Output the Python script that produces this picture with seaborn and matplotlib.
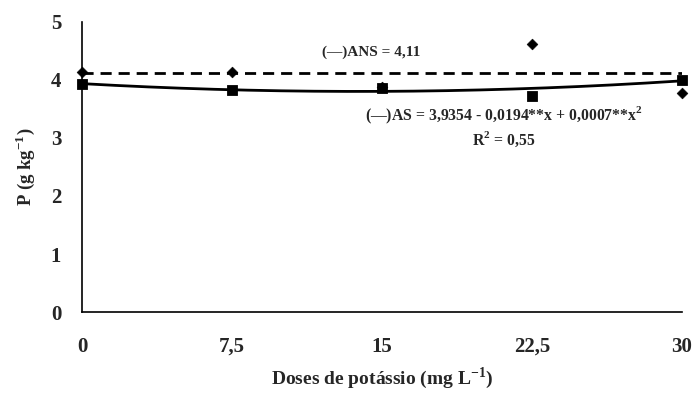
import numpy as np
import pandas as pd
import matplotlib
matplotlib.use("Agg")
import matplotlib.pyplot as plt
import seaborn as sns

# Doses de potássio and measured P contents
doses = [0, 7.5, 15, 22.5, 30]
p_ans = [4.14, 4.14, 3.88, 4.62, 3.78]
p_as = [3.93, 3.83, 3.86, 3.72, 4.00]
ans_mean = 4.11
as_coef = [3.9354, -0.0194, 0.0007]
x_ticks = [0, 7.5, 15, 22.5, 30]
x_tick_labels = ["0", "7,5", "15", "22,5", "30"]
y_ticks = [0, 1, 2, 3, 4, 5]

sns.set_style("white")
plt.rcParams["font.family"] = ["Liberation Serif", "DejaVu Serif"]
plt.rcParams["font.weight"] = "bold"
plt.rcParams["mathtext.fontset"] = "custom"
plt.rcParams["mathtext.rm"] = "Liberation Serif:bold"
plt.rcParams["mathtext.bf"] = "Liberation Serif:bold"

fig = plt.figure(figsize=(6.95, 3.97), dpi=100)
ax = fig.add_axes([0.118, 0.214, 0.863, 0.731])

# fitted curves
xs = np.linspace(min(doses), max(doses), 200)
fit = pd.DataFrame({
    "x": xs,
    "AS": as_coef[0] + as_coef[1] * xs + as_coef[2] * xs ** 2,
    "ANS": np.full_like(xs, ans_mean),
})
sns.lineplot(data=fit, x="x", y="ANS", ax=ax, color="black", lw=2.0,
             linestyle=(0, (4, 2.5)))
sns.lineplot(data=fit, x="x", y="AS", ax=ax, color="black", lw=2.0)

pts = pd.DataFrame({"dose": doses, "ANS": p_ans, "AS": p_as})
sns.scatterplot(data=pts, x="dose", y="ANS", ax=ax, marker="D", s=30,
                color="black", edgecolor="black", clip_on=False, zorder=5)
sns.scatterplot(data=pts, x="dose", y="AS", ax=ax, marker="s", s=55,
                color="black", edgecolor="black", clip_on=False, zorder=5)

ax.set_xlim(0, 30)
ax.set_ylim(0, 5)
ax.set_xticks(x_ticks)
ax.set_xticklabels(x_tick_labels)
ax.set_yticks(y_ticks)
ax.tick_params(axis="both", direction="out", length=5, width=1, color="black",
               labelsize=15, pad=13)
ax.tick_params(axis="y", pad=10)
for lab in ax.get_xticklabels() + ax.get_yticklabels():
    lab.set_fontweight("bold")

sns.despine(ax=ax)
for s in ("left", "bottom"):
    ax.spines[s].set_color("black")
    ax.spines[s].set_linewidth(1.2)

ax.set_xlabel(r"Doses de potássio (mg L$^{\mathbf{-1}}$)", fontsize=14,
              fontweight="bold", labelpad=6)
ax.set_ylabel(r"P (g kg$^{\mathbf{-1}}$)", fontsize=13.5, fontweight="bold",
              labelpad=10)

ax.text(12.0, 4.48, "(—)ANS = 4,11", fontsize=11, fontweight="bold",
        ha="left", va="center")
ax.text(14.15, 3.38, r"(—)AS = 3,9354 - 0,0194**x + 0,0007**x$^{\mathbf{2}}$",
        fontsize=11.3, fontweight="bold", ha="left", va="center")
ax.text(21.1, 2.98, r"R$^{\mathbf{2}}$ = 0,55", fontsize=11.3,
        fontweight="bold", ha="center", va="center")

fig.savefig("out.png", dpi=100)
